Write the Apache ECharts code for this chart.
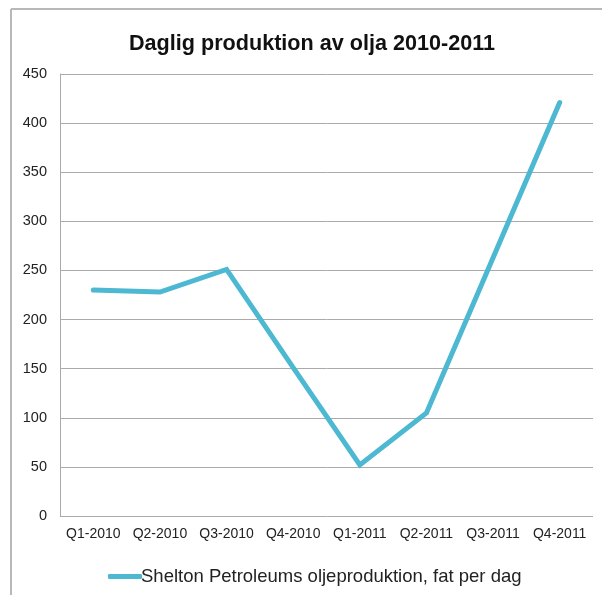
<!DOCTYPE html>
<html><head><meta charset="utf-8">
<script src="https://cdn.jsdelivr.net/npm/echarts@6/dist/echarts.min.js"></script>
<style>html,body{margin:0;padding:0;background:#fff}#c{width:602px;height:595px}</style>
</head><body><div id="c"></div>
<script>
const titleText = 'Daglig produktion av olja 2010-2011';
const categories = ['Q1-2010','Q2-2010','Q3-2010','Q4-2010','Q1-2011','Q2-2011','Q3-2011','Q4-2011'];
const seriesName = 'Shelton Petroleums oljeproduktion, fat per dag';
const values = [230, 228, 251, 151, 52, 105, 263, 421];
const yTicks = [0, 450, 50];

const chart = echarts.init(document.getElementById('c'), null, {renderer:'canvas'});
chart.setOption({
  animation:false,
  textStyle:{fontFamily:'Liberation Sans, Arial, sans-serif'},
  title:{text:titleText,left:307,textAlign:'center',top:28,
    textStyle:{fontSize:21.6,fontWeight:'bold',color:'#111',fontFamily:'Liberation Sans, Arial, sans-serif'}},
  graphic:[
    {type:'line',shape:{x1:11,y1:9,x2:602,y2:9},style:{stroke:'#b8b8b8',lineWidth:2},silent:true},
    {type:'line',shape:{x1:11,y1:9,x2:11,y2:595},style:{stroke:'#b8b8b8',lineWidth:2},silent:true}
  ],
  grid:{left:60,right:9,top:74,bottom:79,containLabel:false},
  legend:{show:true,left:103,top:562,icon:'roundRect',itemWidth:34,itemHeight:5,itemGap:2,
    textStyle:{fontSize:18.5,color:'#222',padding:[0,0,0,-6]},data:[seriesName]},
  xAxis:{type:'category',data:categories,boundaryGap:true,
    axisLine:{show:false},axisTick:{show:false},
    axisLabel:{fontSize:14,color:'#222',margin:11,interval:0,hideOverlap:false}},
  yAxis:{type:'value',min:yTicks[0],max:yTicks[1],interval:yTicks[2],
    axisLine:{show:true,lineStyle:{color:'#aaa',width:1}},axisTick:{show:false},
    axisLabel:{fontSize:14.5,color:'#222',margin:13},
    splitLine:{show:true,lineStyle:{color:'#aaa',width:1}}},
  series:[{type:'line',name:seriesName,data:values,symbol:'none',
    lineStyle:{color:'#4DB8D1',width:5,cap:'round',join:'miter'},itemStyle:{color:'#4DB8D1'}}]
});
</script></body></html>
